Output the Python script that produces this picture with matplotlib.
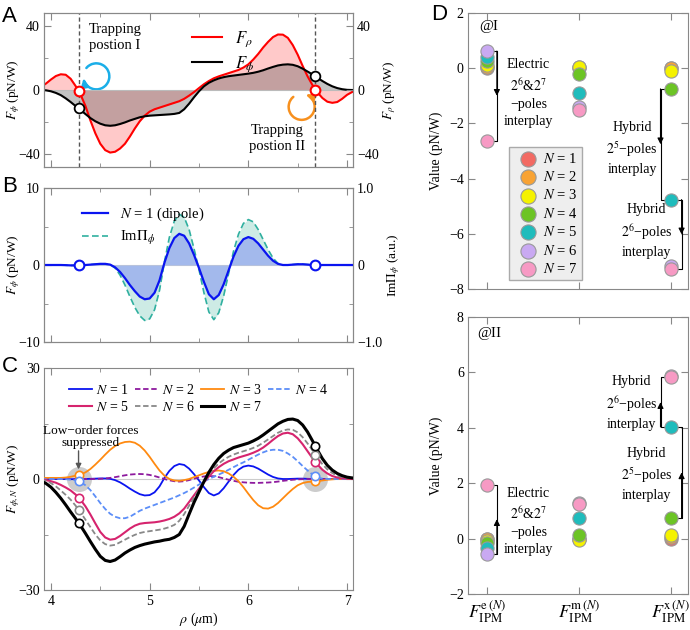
import numpy as np
import matplotlib.pyplot as plt
from matplotlib.path import Path
from matplotlib.patches import FancyArrowPatch
from matplotlib import transforms

plt.rcParams['font.family'] = ['Liberation Serif', 'DejaVu Serif']
plt.rcParams['mathtext.fontset'] = 'stix'
plt.rcParams['font.size'] = 10
plt.rcParams['xtick.direction'] = 'in'
plt.rcParams['ytick.direction'] = 'in'
plt.rcParams['axes.edgecolor'] = '#888888'
plt.rcParams['axes.linewidth'] = 0.8
plt.rcParams['xtick.color'] = '#888888'
plt.rcParams['ytick.color'] = '#888888'
plt.rcParams['xtick.labelcolor'] = 'black'
plt.rcParams['ytick.labelcolor'] = 'black'
plt.rcParams['xtick.major.size'] = 5
plt.rcParams['ytick.major.size'] = 5
plt.rcParams['xtick.minor.size'] = 3
plt.rcParams['ytick.minor.size'] = 3
plt.rcParams['ytick.major.pad'] = 3

# ---- data ----
rho = np.round(np.arange(3.90, 7.101, 0.05), 2)   # 65 samples, um
trap = [4.28, 6.68]

# panel A
f_rho = [2.0, 4.0, 6.5, 8.7, 9.8, 9.5, 7.0, 2.5, -2.8, -10.0,
         -19.0, -27.0, -33.5, -37.5, -39.0, -38.5, -36.5, -33.5, -29.0, -24.0,
         -19.5, -16.0, -13.5, -12.0, -11.0, -10.0, -9.0, -8.0, -7.0, -5.5,
         -3.5, -1.3, 1.2, 3.6, 5.6, 7.3, 8.5, 9.5, 10.5, 11.5,
         12.5, 14.0, 16.0, 19.0, 22.5, 26.5, 30.0, 33.0, 34.6, 34.5,
         32.5, 28.0, 22.0, 15.0, 8.5, 3.0, -1.5, -5.0, -7.3, -8.0,
         -7.5, -5.5, -3.0, -1.3, -0.3]
f_phi = [0.0, -0.2, -0.8, -1.8, -3.2, -5.2, -7.5, -10.0, -12.5, -15.0,
         -17.5, -19.5, -21.0, -22.0, -22.3, -22.0, -21.2, -20.2, -19.0, -18.0,
         -17.0, -16.4, -16.0, -15.8, -15.6, -15.4, -15.2, -14.9, -14.3, -12.0,
         -8.5, -4.5, -0.8, 2.3, 4.5, 6.0, 7.2, 8.0, 8.6, 9.0,
         9.4, 9.8, 10.2, 10.7, 11.4, 12.3, 13.4, 14.4, 15.3, 15.8,
         16.0, 15.7, 14.8, 13.3, 11.5, 9.7, 7.6, 5.6, 3.8, 2.3,
         1.2, 0.5, 0.1, 0.0, 0.0]

# panel B (dipole force, pN/W) and Im Pi_phi (a.u.)
n1 = [0, 0, 0, 0, 0, -0.02, -0.05, -0.05, -0.03, 0.0,
      0.05, 0.1, 0.15, 0.15, 0.05, -0.3, -0.9, -1.7, -2.6, -3.4,
      -4.1, -4.45, -4.35, -3.6, -2.0, 0.3, 2.2, 3.5, 4.05, 3.8,
      2.8, 1.3, -0.4, -2.2, -3.8, -4.45, -3.9, -2.5, -0.7, 1.1,
      2.5, 3.35, 3.63, 3.4, 2.8, 2.0, 1.2, 0.55, 0.15, 0.0,
      0.0, 0.05, 0.1, 0.1, 0.05, 0, 0, 0, 0, 0,
      0, 0, 0, 0, 0]
im_pi = [0, 0, 0, 0, 0, -0.003, -0.006, -0.006, -0.004, 0,
         0.005, 0.01, 0.015, 0.015, 0.005, -0.04, -0.13, -0.26, -0.41, -0.55,
         -0.66, -0.72, -0.70, -0.58, -0.33, 0.04, 0.36, 0.57, 0.66, 0.62,
         0.46, 0.21, -0.06, -0.36, -0.61, -0.71, -0.62, -0.40, -0.11, 0.18,
         0.40, 0.54, 0.59, 0.56, 0.46, 0.33, 0.20, 0.09, 0.02, 0.0,
         0.0, 0.005, 0.01, 0.01, 0.005, 0, 0, 0, 0, 0,
         0, 0, 0, 0, 0]

# panel C, F_phi,N for N = 2..7 (N = 1 is n1 above)
n2 = [0, 0, 0, 0, 0, 0, 0, 0, 0, 0,
      0.0, 0.02, 0.05, 0.15, 0.3, 0.5, 0.75, 1.0, 1.2, 1.3,
      1.35, 1.3, 1.1, 0.8, 0.4, 0.0, -0.35, -0.6, -0.7, -0.6,
      -0.3, 0.1, 0.45, 0.7, 0.8, 0.75, 0.5, 0.15, -0.2, -0.5,
      -0.75, -0.9, -1.0, -1.05, -1.05, -1.0, -0.95, -0.85, -0.7, -0.5,
      -0.35, -0.2, -0.1, -0.05, 0, 0, 0, 0, 0, 0,
      0, 0, 0, 0, 0]
n3 = [0.3, 0.3, 0.3, 0.3, 0.3, 0.4, 0.6, 0.9, 1.2, 1.8,
      2.7, 3.9, 5.2, 6.6, 7.9, 8.9, 9.6, 10.0, 10.1, 9.8,
      9.0, 7.7, 6.0, 4.1, 2.3, 0.9, 0.0, -0.4, -0.5, -0.3,
      0.0, 0.5, 1.0, 1.5, 1.9, 2.2, 2.3, 2.1, 1.5, 0.6,
      -0.6, -2.2, -4.0, -5.7, -7.1, -7.9, -8.0, -7.5, -6.5, -5.2,
      -3.9, -2.7, -1.7, -1.1, -0.8, -0.7, -0.6, -0.4, -0.2, -0.1,
      0.0, 0.0, 0.0, 0.0, 0.0]
n4 = [0.0, 0.0, 0.0, 0.0, 0.0, -0.05, -0.15, -0.35, -0.8, -1.7,
      -3.0, -4.7, -6.5, -8.1, -9.4, -10.2, -10.6, -10.6, -10.2, -9.4,
      -8.6, -8.0, -7.5, -7.0, -6.5, -6.0, -5.5, -5.0, -4.4, -3.8,
      -3.1, -2.3, -1.5, -0.7, 0.0, 0.6, 1.2, 1.8, 2.5, 3.2,
      3.9, 4.5, 5.2, 5.9, 6.6, 7.2, 7.7, 7.9, 7.9, 7.6,
      6.9, 6.0, 4.8, 3.5, 2.3, 1.2, 0.4, 0.1, 0.0, 0.0,
      0.0, 0.0, 0.0, 0.0, 0.0]
n5 = [-0.1, -0.3, -0.6, -1.0, -1.6, -2.3, -3.1, -4.2, -5.6, -7.4,
      -9.6, -12.0, -14.3, -15.8, -16.4, -16.2, -15.4, -14.4, -13.4, -12.6,
      -12.1, -11.9, -11.8, -11.7, -11.5, -11.2, -10.8, -10.2, -9.3, -8.0,
      -6.2, -4.4, -2.6, -0.9, 0.7, 2.1, 3.2, 4.1, 4.8, 5.3,
      5.8, 6.2, 6.6, 7.1, 7.7, 8.5, 9.5, 10.6, 11.6, 12.3,
      12.5, 12.1, 11.0, 9.4, 7.5, 5.6, 3.9, 2.5, 1.5, 0.8,
      0.4, 0.2, 0.1, 0.0, 0.0]
n6 = [-0.2, -0.5, -1.1, -2.0, -3.1, -4.3, -5.6, -7.2, -9.0, -11.0,
      -13.0, -15.0, -16.6, -17.6, -18.0, -17.8, -17.1, -16.4, -15.7, -15.1,
      -14.6, -14.3, -14.1, -13.9, -13.7, -13.4, -13.0, -12.4, -11.3, -9.5,
      -7.2, -5.0, -2.9, -0.8, 1.2, 2.9, 4.2, 5.2, 6.0, 6.6,
      7.1, 7.5, 7.9, 8.4, 9.0, 9.8, 10.7, 11.6, 12.5, 13.1,
      13.4, 13.3, 12.6, 11.3, 9.6, 7.7, 5.8, 4.0, 2.6, 1.6,
      0.9, 0.5, 0.3, 0.2, 0.1]
n7 = [-0.6, -1.2, -2.2, -3.6, -5.2, -7.0, -8.9, -10.7, -12.6, -14.7,
      -16.9, -19.0, -20.9, -22.0, -22.3, -21.9, -21.0, -20.0, -19.2, -18.5,
      -18.0, -17.6, -17.3, -17.0, -16.8, -16.5, -16.3, -15.8, -15.0, -12.8,
      -9.5, -6.3, -3.5, -0.7, 1.8, 3.9, 5.6, 6.9, 7.8, 8.5,
      8.9, 9.3, 9.7, 10.3, 11.0, 11.9, 12.9, 13.9, 14.9, 15.6,
      16.1, 16.2, 15.8, 14.6, 12.7, 10.3, 7.8, 5.5, 3.7, 2.4,
      1.5, 0.9, 0.5, 0.3, 0.2]

# panel D: values of the e / m / x components at the two trapping positions
comp_labels = [r'$F_{\mathrm{IPM}}^{\mathrm{e}\,(N)}$',
               r'$F_{\mathrm{IPM}}^{\mathrm{m}\,(N)}$',
               r'$F_{\mathrm{IPM}}^{\mathrm{x}\,(N)}$']
ipm_I = [[0.0, 0.0, 0.0],
         [0.05, 0.03, 0.0],
         [0.12, 0.05, -0.1],
         [0.25, -0.2, -0.75],
         [0.42, -0.89, -4.76],
         [0.62, -1.42, -7.15],
         [-2.62, -1.52, -7.28]]
ipm_II = [[0.0, 0.0, 0.0],
          [-0.03, 0.0, 0.05],
          [-0.08, -0.05, 0.12],
          [-0.17, 0.13, 0.75],
          [-0.35, 0.75, 4.03],
          [-0.55, 1.30, 5.86],
          [1.95, 1.26, 5.82]]
d_colors = ['#f26a63', '#f8a334', '#f5f200', '#6cc425', '#1fbcbc', '#c9a9f2', '#f79ac4']


def box(l, t, r, b):
    return [l / 690, 1 - b / 630, (r - l) / 690, (b - t) / 630]


fig = plt.figure(figsize=(6.9, 6.3), dpi=100)


def loop_arrow(ax, cx, cy, t1, t2, color, clockwise):
    arc = Path.arc(t1, t2)
    verts = arc.vertices * 0.13
    if clockwise:
        verts = verts[::-1]
    path = Path(verts, arc.codes)
    tr = fig.dpi_scale_trans + transforms.ScaledTranslation(cx, cy, ax.transData)
    p = FancyArrowPatch(path=path, arrowstyle='-|>', mutation_scale=11,
                        color=color, lw=1.8, transform=tr, clip_on=False)
    ax.add_patch(p)


def rho_axis(ax):
    ax.set_xlim(3.93, 7.06)
    ax.set_xticks([4, 5, 6, 7])
    ax.set_xticks([4.5, 5.5, 6.5], minor=True)
    ax.tick_params(which='both', top=True)


# ---------------- A ----------------
axA = fig.add_axes(box(44, 13, 353, 167))
axA.fill_between(rho, f_rho, 0, color='#ff7878', alpha=0.4, lw=0)
axA.fill_between(rho, f_phi, 0, color='#555555', alpha=0.35, lw=0)
axA.axhline(0, color='#bbbbbb', lw=0.8)
for t in trap:
    axA.axvline(t, color='#555555', ls=(0, (3, 2)), lw=1)
axA.plot(rho, f_rho, color='#ff0000', lw=1.5, label=r'$F_\rho$')
axA.plot(rho, f_phi, color='black', lw=1.5, label=r'$F_\phi$')
axA.plot(trap, np.interp(trap, rho, f_rho), 'o', mfc='white', mec='#ff0000', ms=7, mew=1.5, zorder=5)
axA.plot(trap, np.interp(trap, rho, f_phi), 'o', mfc='white', mec='black', ms=7, mew=1.3, zorder=5)
rho_axis(axA)
axA.tick_params(labelbottom=False)
axA.set_ylim(-48, 48)
axA.set_yticks([-40, 0, 40], ['\u221240', '0', '40'])
axA.set_yticks([-20, 20], minor=True)
axA.set_ylabel(r'$F_\phi$ (pN/W)', fontsize=9.5)
axA.yaxis.set_label_coords(-0.07, 0.5)
axA.legend(loc='upper left', bbox_to_anchor=(0.43, 0.99), frameon=False, fontsize=12,
           handlelength=1.8, labelspacing=0.3)
axA.text(4.65, 33, 'Trapping\npostion I', ha='center', va='center', fontsize=10.5, linespacing=1.3)
axA.text(6.29, -30, 'Trapping\npostion II', ha='center', va='center', fontsize=10.5, linespacing=1.3)
axA2 = axA.twinx()
axA2.set_ylim(-48, 48)
axA2.set_yticks([-40, 0, 40], ['\u221240', '0', '40'])
axA2.set_yticks([-20, 20], minor=True)
axA2.set_ylabel(r'$F_\rho$ (pN/W)', fontsize=9.5, labelpad=2)
loop_arrow(axA, 4.46, 8.5, 190, 500, '#1aaee8', True)
loop_arrow(axA, 6.54, -10.5, 130, 430, '#f7901e', False)

# ---------------- B ----------------
axB = fig.add_axes(box(44, 188, 353, 342))
axB2 = axB.twinx()
axB.set_zorder(axB2.get_zorder() + 1)
axB.patch.set_visible(False)
axB2.fill_between(rho, im_pi, 0, color='#cdebe5', lw=0)
lt, = axB2.plot(rho, im_pi, color='#30b0a0', lw=1.2, dashes=(4, 2), label=r'Im$\mathit{\Pi}_\phi$')
axB.fill_between(rho, n1, 0, color='#a3b9ec', lw=0)
axB.axhline(0, color='#cccccc', lw=0.8, zorder=0)
lb, = axB.plot(rho, n1, color='#0a14f0', lw=1.6, label=r'$N$ = 1 (dipole)')
axB.plot(trap, np.interp(trap, rho, n1), 'o', mfc='white', mec='#0a14f0', ms=7, mew=1.5, zorder=5)
rho_axis(axB)
axB.tick_params(labelbottom=False)
axB.set_ylim(-10, 10)
axB.set_yticks([-10, 0, 10], ['\u221210', '0', '10'])
axB.set_yticks([-5, 5], minor=True)
axB.set_ylabel(r'$F_\phi$ (pN/W)', fontsize=9.5)
axB.yaxis.set_label_coords(-0.07, 0.5)
axB2.set_ylim(-1, 1)
axB2.set_yticks([-1, 0, 1], ['\u22121.0', '0', '1.0'])
axB2.set_yticks([-0.5, 0.5], minor=True)
axB2.set_ylabel(r'Im$\mathit{\Pi}_\phi$ (a.u.)', fontsize=9.5, labelpad=2)
axB.legend(handles=[lb, lt], loc='upper left', bbox_to_anchor=(0.08, 0.97), frameon=False,
           fontsize=10.5, handlelength=1.8, labelspacing=0.4)

# ---------------- C ----------------
axC = fig.add_axes(box(44, 368, 353, 590))
axC.axhline(0, color='#cccccc', lw=0.8, zorder=0)
axC.plot(trap, [0, 0], 'o', ms=18, color='#cccccc', mew=0, zorder=1)
series = [(n1, 'N = 1', '#0a14f0', '-', 1.3),
          (n2, 'N = 2', '#8e1a9e', (0, (3, 1.5)), 1.3),
          (n3, 'N = 3', '#ff8a10', '-', 1.3),
          (n4, 'N = 4', '#5c8ef8', (0, (3, 1.5)), 1.3),
          (n5, 'N = 5', '#d6246e', '-', 1.5),
          (n6, 'N = 6', '#888888', (0, (3, 1.5)), 1.3),
          (n7, 'N = 7', 'black', '-', 2.2)]
handles = []
for vals, lab, col, ls, lw in series:
    h, = axC.plot(rho, vals, color=col, ls=ls, lw=lw, label=r'$N$' + lab[1:], zorder=3)
    handles.append(h)
for vals, lab, col, ls, lw in series[2:]:
    axC.plot(trap, np.interp(trap, rho, vals), 'o', mfc='white', mec=col, ms=6, mew=1.2, zorder=4)
order = [0, 4, 1, 5, 2, 6, 3]
axC.legend([handles[i] for i in order], [handles[i].get_label() for i in order], ncol=4,
           loc='upper center', bbox_to_anchor=(0.5, 0.99), frameon=False, fontsize=10,
           handlelength=1.6, columnspacing=0.45, handletextpad=0.35, labelspacing=0.25)
axC.text(4.40, 8.0, 'Low\u2212order forces\nsuppressed', ha='center', va='bottom', fontsize=9.5,
         linespacing=1.0)
axC.annotate('', xy=(4.28, 2.6), xytext=(4.28, 7.6),
             arrowprops=dict(arrowstyle='-|>', color='#555555', lw=1, mutation_scale=8,
                             shrinkA=0, shrinkB=0))
rho_axis(axC)
axC.tick_params(which='both', right=True)
axC.set_ylim(-30, 30)
axC.set_yticks([-30, 0, 30], ['\u221230', '0', '30'])
axC.set_yticks([-15, 15], minor=True)
axC.set_ylabel(r'$F_{\phi,N}$ (pN/W)', fontsize=9.5)
axC.yaxis.set_label_coords(-0.07, 0.5)
axC.set_xlabel(r'$\rho$ ($\mu$m)', labelpad=2)


# ---------------- D ----------------
def bracket(ax, x, y0, y1, arm):
    ax.plot([x + arm, x, x, x + arm], [y0, y0, y1, y1], color='black', lw=0.8, zorder=2)
    ax.annotate('', xy=(x, (y0 + y1) / 2), xytext=(x, y0),
                arrowprops=dict(arrowstyle='-|>', color='black', lw=0.8, mutation_scale=9,
                                shrinkA=0, shrinkB=0))


axD1 = fig.add_axes(box(468, 13, 688, 289))
axD2 = fig.add_axes(box(468, 317, 688, 594))
for ax, vals in [(axD1, ipm_I), (axD2, ipm_II)]:
    for i, v in enumerate(vals):
        ax.scatter([0, 1, 2], v, s=90, color=d_colors[i], edgecolors='#999999', linewidths=0.8,
                   zorder=3 + i, label=r'$N$ = %d' % (i + 1))
    ax.set_xlim(-0.21, 2.19)
    ax.set_xticks([0, 1, 2])
    ax.tick_params(which='both', top=True, right=True)
    ax.set_ylabel('Value (pN/W)')
    ax.yaxis.set_label_coords(-0.115, 0.5)

axD1.set_ylim(-8, 2)
axD1.set_yticks([-8, -6, -4, -2, 0, 2], ['\u22128', '\u22126', '\u22124', '\u22122', '0', '2'])
axD1.tick_params(labelbottom=False)
axD1.text(0.05, 0.95, '@I', transform=axD1.transAxes, fontsize=11, va='center')
axD1.legend(loc='lower left', bbox_to_anchor=(0.155, 0.005), frameon=True, fancybox=False,
            facecolor='#eeeeee', edgecolor='#aaaaaa', framealpha=1, fontsize=10.5,
            handletextpad=0.0, labelspacing=0.3, borderpad=0.3, markerscale=1.15)
e, m, x = [list(c) for c in zip(*ipm_I)]
bracket(axD1, 0.105, e[5], e[6], -0.03)
bracket(axD1, 1.89, x[3], x[4], 0.035)
bracket(axD1, 2.12, x[4], x[6], -0.035)
txt = dict(ha='center', va='center', fontsize=10, linespacing=1.4)
axD1.text(0.45, -0.9, 'Electric\n$2^6$&$2^7$\n\u2212poles\ninterplay', **txt)
axD1.text(1.58, -2.9, 'Hybrid\n$2^5$\u2212poles\ninterplay', **txt)
axD1.text(1.74, -5.9, 'Hybrid\n$2^6$\u2212poles\ninterplay', **txt)

axD2.set_ylim(-2, 8)
axD2.set_yticks([-2, 0, 2, 4, 6, 8], ['\u22122', '0', '2', '4', '6', '8'])
axD2.set_xticklabels(comp_labels, fontsize=13)
axD2.text(0.04, 0.94, '@II', transform=axD2.transAxes, fontsize=11, va='center')
e, m, x = [list(c) for c in zip(*ipm_II)]
bracket(axD2, 0.105, e[5], e[6], -0.03)
bracket(axD2, 1.89, x[4], x[6], 0.035)
bracket(axD2, 2.12, x[3], x[4], -0.035)
axD2.text(0.45, 0.63, 'Electric\n$2^6$&$2^7$\n\u2212poles\ninterplay', **txt)
axD2.text(1.57, 4.9, 'Hybrid\n$2^6$\u2212poles\ninterplay', **txt)
axD2.text(1.74, 2.31, 'Hybrid\n$2^5$\u2212poles\ninterplay', **txt)

# panel letters
for lab, px, py in [('A', 2, 6), ('B', 2, 176), ('C', 2, 356), ('D', 431, 4)]:
    fig.text(px / 690, 1 - py / 630, lab, fontsize=16, family='Liberation Sans', va='top', ha='left')

fig.savefig('out.png', dpi=100)
